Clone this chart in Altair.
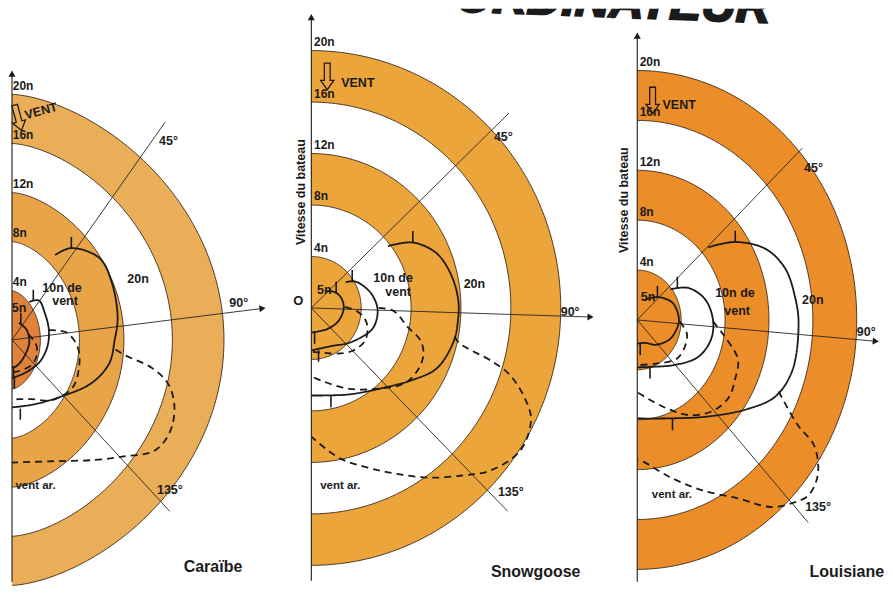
import altair as alt
import numpy as np
import pandas as pd

# ------------------------------------------------------------------ data
RINGS = [4, 8, 12, 16, 20]
RING_LABELS = ["4n", "8n", "12n", "16n", "20n"]
BAND_INNER = [0, 8, 16]
BAND_OUTER = [4, 12, 20]
RAY_LABELS = ["45°", "90°", "135°"]

# boat speed (knots) against angle to the true wind (degrees)
# ---- Caraïbe
CAR_5N_ANG = [43, 71, 95, 133, 163, 180]
CAR_5N_SPD = [1.9, 2.5, 2.7, 2.4, 2.3, 2.2]
CAR_10N_ANG = [41, 50, 64, 81, 97, 115, 135, 155, 180]
CAR_10N_SPD = [4.1, 5.0, 5.0, 5.0, 4.8, 4.3, 3.6, 3.2, 3.1]
CAR_20N_ANG = [39, 44, 56, 67, 81, 90, 100, 111, 128, 150, 180]
CAR_20N_SPD = [8.9, 10.4, 11.9, 11.9, 11.6, 11.2, 10.9, 9.8, 7.6, 6.1, 5.5]
CAR_5N_SPI_ANG = [80, 95, 110, 125, 145, 165, 180]
CAR_5N_SPI_SPD = [2.6, 3.5, 3.8, 3.6, 3.0, 2.7, 2.6]
CAR_10N_SPI_ANG = [81, 85, 95, 107, 118, 133, 148, 165, 180]
CAR_10N_SPI_SPD = [5.0, 6.8, 7.9, 8.3, 8.3, 7.2, 5.7, 5.0, 4.9]
CAR_20N_SPI_ANG = [94, 96, 99, 103, 109, 116, 122, 128, 136, 152, 180]
CAR_20N_SPI_SPD = [11.3, 12.2, 14.5, 16.1, 17.1, 17.5, 17.1, 15.4, 13.6, 11.2, 10.0]
CAR_TICK_5N = [50, 170]
CAR_TICK_10N = [45, 170]
CAR_TICK_20N = [44, 165]

# ---- Snowgoose
SNO_5N_ANG = [40, 55, 70, 90, 115, 140, 165, 180]
SNO_5N_SPD = [1.7, 2.2, 2.5, 2.6, 2.4, 2.1, 1.9, 1.9]
SNO_10N_ANG = [54, 60, 76, 90, 101, 110, 131, 150, 180]
SNO_10N_SPD = [3.4, 4.1, 4.9, 5.3, 5.3, 5.1, 4.1, 3.4, 3.3]
SNO_20N_ANG = [52, 58, 67, 77, 87, 95, 103, 115, 125, 138, 155, 170, 180]
SNO_20N_SPD = [7.8, 9.6, 10.9, 11.5, 11.8, 11.8, 11.7, 11.1, 9.8, 8.4, 7.4, 6.9, 6.8]
SNO_5N_SPI_ANG = [88, 95, 105, 120, 135, 150, 165, 180]
SNO_5N_SPI_SPD = [2.7, 3.8, 4.6, 5.0, 4.7, 4.1, 3.6, 3.4]
SNO_10N_SPI_ANG = [90, 92, 101, 106, 112, 120, 128, 138, 154, 172, 180]
SNO_10N_SPI_SPD = [5.4, 6.6, 7.9, 9.1, 9.7, 9.8, 9.5, 8.4, 7.0, 5.7, 5.3]
SNO_20N_SPI_ANG = [101, 103, 106, 108, 112, 116, 122, 126, 132, 137, 144, 152, 160, 169, 180]
SNO_20N_SPI_SPD = [11.7, 12.2, 15.1, 16.7, 18.4, 19.6, 20.1, 19.9, 19.0, 17.8, 16.3, 14.6, 13.2, 11.9, 10.0]
SNO_TICK_5N = [60, 172]
SNO_TICK_10N = [58, 170]
SNO_TICK_20N = [58, 167]

# ---- Louisiane
LOU_5N_ANG = [25, 45, 67, 90, 105, 119, 140, 157, 180]
LOU_5N_SPD = [1.8, 2.6, 3.5, 3.8, 3.6, 3.3, 2.6, 2.0, 1.9]
LOU_10N_ANG = [51, 61, 75, 90, 103, 118, 136, 160, 180]
LOU_10N_SPD = [3.9, 5.3, 6.4, 6.9, 6.9, 6.3, 5.0, 4.0, 3.8]
LOU_20N_ANG = [48, 55, 64, 73, 83, 91, 106, 116, 125, 140, 160, 180]
LOU_20N_SPD = [8.7, 10.9, 13.0, 14.1, 14.5, 14.7, 14.7, 14.0, 12.4, 10.1, 8.4, 7.9]
LOU_5N_SPI_ANG = [92, 105, 129, 154, 180]
LOU_5N_SPI_SPD = [3.9, 4.7, 4.8, 3.9, 3.6]
LOU_10N_SPI_ANG = [91, 99, 109, 118, 127, 137, 148, 160, 180]
LOU_10N_SPI_SPD = [6.9, 8.0, 9.7, 10.1, 10.4, 10.0, 9.0, 7.5, 5.8]
LOU_20N_SPI_ANG = [114, 120, 122, 127, 132, 136, 141, 147, 157, 167, 177, 180]
LOU_20N_SPI_SPD = [14.1, 16.9, 19.0, 20.6, 21.0, 20.4, 19.3, 17.1, 14.8, 12.9, 11.4, 11.2]
LOU_TICK_5N = [45, 172]
LOU_TICK_10N = [55, 163]
LOU_TICK_20N = [55, 158]

# curve labels
CURVE_TEXT = ["5n", "10n de", "vent", "20n", "vent ar."]
PANEL_TITLES = ["Caraïbe", "Snowgoose", "Louisiane"]
HEADING = "ORDINATEUR"

# ------------------------------------------------------------ layout
FONT = "Liberation Sans"
INK = "#1b1b1b"
TICK = 0.9
H = 576

PANELS = [
    dict(
        key="car", title=PANEL_TITLES[0], width=280,
        xscale=dict(type="pow", exponent=1.25, domain=[-0.48, 24.8], nice=False, zero=False),
        ydomain=[-19.84, 26.99],
        colors=["#E0823A", "#E9A448", "#EAAE58"],
        curves=[(CAR_5N_ANG, CAR_5N_SPD, "solid", CAR_TICK_5N),
                (CAR_10N_ANG, CAR_10N_SPD, "solid", CAR_TICK_10N),
                (CAR_20N_ANG, CAR_20N_SPD, "solid", CAR_TICK_20N),
                (CAR_5N_SPI_ANG, CAR_5N_SPI_SPD, "dashed", []),
                (CAR_10N_SPI_ANG, CAR_10N_SPI_SPD, "dashed", []),
                (CAR_20N_SPI_ANG, CAR_20N_SPI_SPD, "dashed", [])],
        ray_ang=[41, 83.6, 131.5], ray_len=[23.5, 23.0, 21.1], yaxis=[-19.7, 21.7],
        curve_x=[1.31, 6.3, 6.6, 13.2, 3.44], curve_y=[2.6, 4.2, 3.2, 5.0, -11.9],
        angle_x=[14.93, 20.4, 14.76], angle_y=[16.2, 3.0, -12.2],
        vent_arrow=(1.16, 18.1), vent_text=(2.15, 18.3), vent_rot=345,
        title_xy=(16.9, -18.5), origin_xy=None, vitesse_xy=None, heading_xy=None,
    ),
    dict(
        key="sno", title=PANEL_TITLES[1], width=322,
        xscale=dict(domain=[-1.76, 24.0], nice=False, zero=False),
        ydomain=[-21.4, 23.26],
        colors=["#ECA53B", "#ECA53B", "#ECA53B"],
        curves=[(SNO_5N_ANG, SNO_5N_SPD, "solid", SNO_TICK_5N),
                (SNO_10N_ANG, SNO_10N_SPD, "solid", SNO_TICK_10N),
                (SNO_20N_ANG, SNO_20N_SPD, "solid", SNO_TICK_20N),
                (SNO_5N_SPI_ANG, SNO_5N_SPI_SPD, "dashed", []),
                (SNO_10N_SPI_ANG, SNO_10N_SPI_SPD, "dashed", []),
                (SNO_20N_SPI_ANG, SNO_20N_SPI_SPD, "dashed", [])],
        ray_ang=[46.3, 91.8, 135.1], ray_len=[21.9, 22.4, 22.3], yaxis=[-21.2, 22.6],
        curve_x=[1.04, 6.56, 6.96, 13.08, 2.32], curve_y=[1.4, 2.33, 1.24, 1.86, -13.8],
        angle_x=[14.64, 20.0, 14.96], angle_y=[13.3, -0.3, -14.3],
        vent_arrow=(1.28, 18.0), vent_text=(2.4, 17.5), vent_rot=0,
        title_xy=(14.4, -20.5), origin_xy=(-0.64, 0.55), vitesse_xy=(-0.8, 9.0),
        heading_xy=(36.8, 22.2),
    ),
    dict(
        key="lou", title=PANEL_TITLES[2], width=275,
        xscale=dict(domain=[-2.427, 22.573], nice=False, zero=False),
        ydomain=[-21.12, 24.96],
        colors=["#EB8D29", "#EB8D29", "#EB8D29"],
        curves=[(LOU_5N_ANG, LOU_5N_SPD, "solid", LOU_TICK_5N),
                (LOU_10N_ANG, LOU_10N_SPD, "solid", LOU_TICK_10N),
                (LOU_20N_ANG, LOU_20N_SPD, "solid", LOU_TICK_20N),
                (LOU_5N_SPI_ANG, LOU_5N_SPI_SPD, "dashed", []),
                (LOU_10N_SPI_ANG, LOU_10N_SPI_SPD, "dashed", []),
                (LOU_20N_SPI_ANG, LOU_20N_SPI_SPD, "dashed", [])],
        ray_ang=[47.5, 94.5, 136.2], ray_len=[20.4, 21.8, 22.5], yaxis=[-21.0, 22.8],
        curve_x=[0.98, 8.9, 9.1, 16.0, 3.16], curve_y=[1.8, 2.16, 0.72, 1.6, -14.0],
        angle_x=[15.2, 20.0, 15.3], angle_y=[12.2, -1.0, -15.0],
        vent_arrow=(1.4, 17.6), vent_text=(2.3, 17.2), vent_rot=0,
        title_xy=(15.7, -20.2), origin_xy=None, vitesse_xy=(-1.25, 9.6),
        heading_xy=(12.1, 23.84),
    ),
]

ARROW_SHAPE = "M-0.22,-1L0.22,-1L0.22,0.3L0.5,0.3L0,1L-0.5,0.3L-0.22,0.3Z"


def polar_xy(ang, spd):
    a = np.radians(np.asarray(ang, dtype=float))
    s = np.asarray(spd, dtype=float)
    return s * np.sin(a), s * np.cos(a)


def build_panel(cfg):
    xs = alt.Scale(**cfg["xscale"])
    ys = alt.Scale(domain=cfg["ydomain"], nice=False, zero=False)

    def X(f):
        return alt.X(f, scale=xs, axis=None)

    def Y(f):
        return alt.Y(f, scale=ys, axis=None)

    layers = []

    # shaded half-annuli
    t = np.linspace(0, np.pi, 721)
    parts = []
    names = []
    for i, (r1, r2) in enumerate(zip(BAND_INNER, BAND_OUTER)):
        yv = r2 * np.cos(t)
        if r1 > 0:
            yv = np.concatenate([yv, r1 * np.cos(t)])
        yv = np.unique(np.round(yv, 6))
        xo = np.sqrt(np.clip(r2 ** 2 - yv ** 2, 0, None))
        xi = np.sqrt(np.clip(r1 ** 2 - yv ** 2, 0, None))
        name = f"{cfg['key']}{i}"
        names.append(name)
        parts.append(pd.DataFrame({"band": name, "y": yv, "xo": xo, "xi": xi}))
    bdf = pd.concat(parts, ignore_index=True)
    layers.append(
        alt.Chart(bdf).mark_area(orient="horizontal", opacity=1).encode(
            y=Y("y:Q"), x=X("xo:Q"), x2="xi:Q",
            color=alt.Color("band:N", legend=None,
                            scale=alt.Scale(domain=names, range=cfg["colors"])),
        )
    )

    # ring outlines
    th = np.arange(0, 181, 1.0)
    rdf = pd.concat([pd.DataFrame({"ring": r, "t": th,
                                   "x": r * np.sin(np.radians(th)),
                                   "y": r * np.cos(np.radians(th))}) for r in RINGS],
                    ignore_index=True)
    layers.append(
        alt.Chart(rdf).mark_line(color="#3a2a1c", strokeWidth=0.9).encode(
            x=X("x:Q"), y=Y("y:Q"), detail="ring:N", order="t:Q")
    )

    # 45 / 90 / 135 rays
    rx, ry = polar_xy(cfg["ray_ang"], cfg["ray_len"])
    ray_df = pd.DataFrame({"x0": 0.0, "y0": 0.0, "x1": rx, "y1": ry})
    layers.append(
        alt.Chart(ray_df).mark_rule(color="#262626", strokeWidth=0.9).encode(
            x=X("x0:Q"), y=Y("y0:Q"), x2="x1:Q", y2="y1:Q")
    )
    # vertical axis
    ax_df = pd.DataFrame({"x0": [0.0], "y0": [cfg["yaxis"][0]], "y1": [cfg["yaxis"][1]]})
    layers.append(
        alt.Chart(ax_df).mark_rule(color=INK, strokeWidth=1.1).encode(
            x=X("x0:Q"), y=Y("y0:Q"), y2="y1:Q")
    )
    # arrow heads
    ah = pd.DataFrame({"x": [0.0, rx[1]], "y": [cfg["yaxis"][1], ry[1]],
                       "rot": [270.0, (cfg["ray_ang"][1] - 90) % 360]})
    layers.append(
        alt.Chart(ah).mark_point(shape="triangle-right", filled=True, color=INK,
                                 size=50, opacity=1).encode(
            x=X("x:Q"), y=Y("y:Q"), angle=alt.Angle("rot:Q", scale=None))
    )

    # speed curves
    parts, tick_rows = [], []
    for k, (ang, spd, kind, ticks) in enumerate(cfg["curves"]):
        cx, cy = polar_xy(ang, spd)
        parts.append(pd.DataFrame({"curve": f"c{k}", "kind": kind,
                                   "i": np.arange(len(ang)), "x": cx, "y": cy}))
        for ta in ticks:
            r = float(np.interp(ta, ang, spd))
            tx, ty = polar_xy([ta], [r])
            tick_rows.append({"x": tx[0], "y": ty[0],
                              "y2": ty[0] + (TICK if ta < 90 else -TICK)})
    cdf = pd.concat(parts, ignore_index=True)
    layers.append(
        alt.Chart(cdf).mark_line(interpolate="catmull-rom", strokeWidth=1.8, color=INK).encode(
            x=X("x:Q"), y=Y("y:Q"), detail="curve:N", order="i:Q",
            strokeDash=alt.StrokeDash("kind:N", legend=None,
                                      scale=alt.Scale(domain=["solid", "dashed"],
                                                      range=[[1, 0], [7, 5]])),
        )
    )
    layers.append(
        alt.Chart(pd.DataFrame(tick_rows)).mark_rule(color=INK, strokeWidth=1.6).encode(
            x=X("x:Q"), y=Y("y:Q"), y2="y2:Q")
    )

    # wind arrow
    va = pd.DataFrame({"x": [cfg["vent_arrow"][0]], "y": [cfg["vent_arrow"][1]]})
    layers.append(
        alt.Chart(va).mark_point(shape=ARROW_SHAPE, filled=False, stroke=INK, strokeWidth=1.3,
                                 size=700, opacity=1, angle=cfg["vent_rot"]).encode(
            x=X("x:Q"), y=Y("y:Q"))
    )

    def text(df, **kw):
        return alt.Chart(df).mark_text(font=FONT, color=INK, **kw).encode(
            x=X("x:Q"), y=Y("y:Q"), text="t:N")

    # ring labels
    layers.append(text(pd.DataFrame({"t": RING_LABELS, "x": 0.22,
                                     "y": [r + 0.12 for r in RINGS]}),
                       align="left", baseline="bottom", fontSize=12, fontWeight="bold"))
    # curve labels
    layers.append(text(pd.DataFrame({"t": CURVE_TEXT[:4], "x": cfg["curve_x"][:4],
                                     "y": cfg["curve_y"][:4]}),
                       align="center", baseline="middle", fontSize=12.5, fontWeight="bold"))
    layers.append(text(pd.DataFrame({"t": CURVE_TEXT[4:], "x": cfg["curve_x"][4:],
                                     "y": cfg["curve_y"][4:]}),
                       align="center", baseline="middle", fontSize=11.5, fontWeight="bold"))
    # angle labels
    layers.append(text(pd.DataFrame({"t": RAY_LABELS, "x": cfg["angle_x"], "y": cfg["angle_y"]}),
                       align="left", baseline="middle", fontSize=12.5, fontWeight="bold"))
    # VENT
    layers.append(text(pd.DataFrame({"t": ["VENT"], "x": [cfg["vent_text"][0]],
                                     "y": [cfg["vent_text"][1]]}),
                       align="left", baseline="middle", fontSize=12.5, fontWeight="bold",
                       angle=cfg["vent_rot"]))
    # title
    layers.append(text(pd.DataFrame({"t": [cfg["title"]], "x": [cfg["title_xy"][0]],
                                     "y": [cfg["title_xy"][1]]}),
                       align="left", baseline="middle", fontSize=16, fontWeight="bold"))
    if cfg["origin_xy"]:
        layers.append(text(pd.DataFrame({"t": ["O"], "x": [cfg["origin_xy"][0]],
                                         "y": [cfg["origin_xy"][1]]}),
                           align="right", baseline="middle", fontSize=13, fontWeight="bold"))
    if cfg["vitesse_xy"]:
        layers.append(text(pd.DataFrame({"t": ["Vitesse du bateau"], "x": [cfg["vitesse_xy"][0]],
                                         "y": [cfg["vitesse_xy"][1]]}),
                           align="center", baseline="middle", fontSize=12.5, fontWeight="bold",
                           angle=270))
    if cfg["heading_xy"]:
        layers.append(text(pd.DataFrame({"t": [HEADING], "x": [cfg["heading_xy"][0]],
                                         "y": [cfg["heading_xy"][1]]}),
                           align="right", baseline="alphabetic", fontSize=48, fontWeight="bold",
                           fontStyle="italic", angle=2, clip=True,
                           stroke=INK, strokeWidth=2.2))

    return alt.layer(*layers).properties(width=cfg["width"], height=H)


chart = (
    alt.hconcat(*[build_panel(c) for c in PANELS], spacing=0)
    .resolve_scale(color="independent")
    .properties(padding=0, background="white")
    .configure_view(strokeWidth=0)
)

chart.save("out.html", embed_options={"renderer": "svg", "actions": False})
